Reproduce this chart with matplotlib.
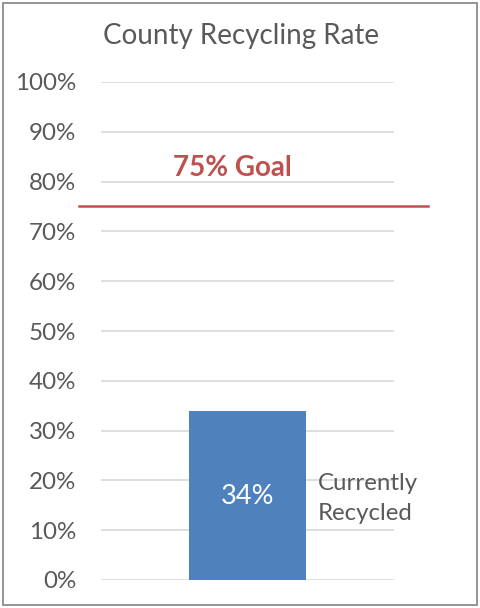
import matplotlib
matplotlib.use("Agg")
import matplotlib.pyplot as plt
from matplotlib.patches import Rectangle

# data
categories = ["Currently Recycled"]
rates = [34]
goal = 75
yticks = list(range(0, 101, 10))

plt.rcParams['font.family'] = ['Lato', 'DejaVu Sans']

W, H = 481, 608
fig = plt.figure(figsize=(W / 100, H / 100), dpi=100)
ax = fig.add_axes([101 / W, (H - 580) / H, 293 / W, (580 - 82) / H])

grey = '#595959'

ax.bar([0], rates, width=0.4, color='#4F81BD', zorder=3)
ax.set_xlim(-0.5, 0.5)
ax.set_ylim(0, 100)
ax.set_yticks(yticks)
ax.set_yticklabels([f"{t}%" for t in yticks], fontsize=17.4, color=grey)
ax.tick_params(axis='y', length=0, pad=18)
ax.set_xticks([])
ax.grid(axis='y', color='#D9D9D9', linewidth=1.2, zorder=0)
for s in ax.spines.values():
    s.set_visible(False)

# bar value
ax.text(0, 16.7, f"{rates[0]}%", ha='center', va='center', color='white', fontsize=19.5, zorder=4)

# category label to the right
ax.text(0.24, 16.4, "Currently\nRecycled", ha='left', va='center', color=grey,
        fontsize=17.3, linespacing=1.5)

# goal line, extends beyond plot area
ax.plot([-0.575, 0.616], [goal, goal], color='#C0504D', linewidth=1.8, clip_on=False, zorder=4)
ax.text(-0.05, 82.7, f"{goal}% Goal", ha='center', va='center', color='#C0504D',
        fontsize=20, fontweight='bold')

fig.text(241 / W, 1 - 36 / H, "County Recycling Rate", ha='center', va='center',
         color=grey, fontsize=20)

# outer border
fig.patches.append(Rectangle((3 / W, 3 / H), 474 / W, 602 / H, transform=fig.transFigure,
                             fill=False, edgecolor='#8C8C8C', linewidth=1.3))

fig.savefig('out.png', dpi=100)
